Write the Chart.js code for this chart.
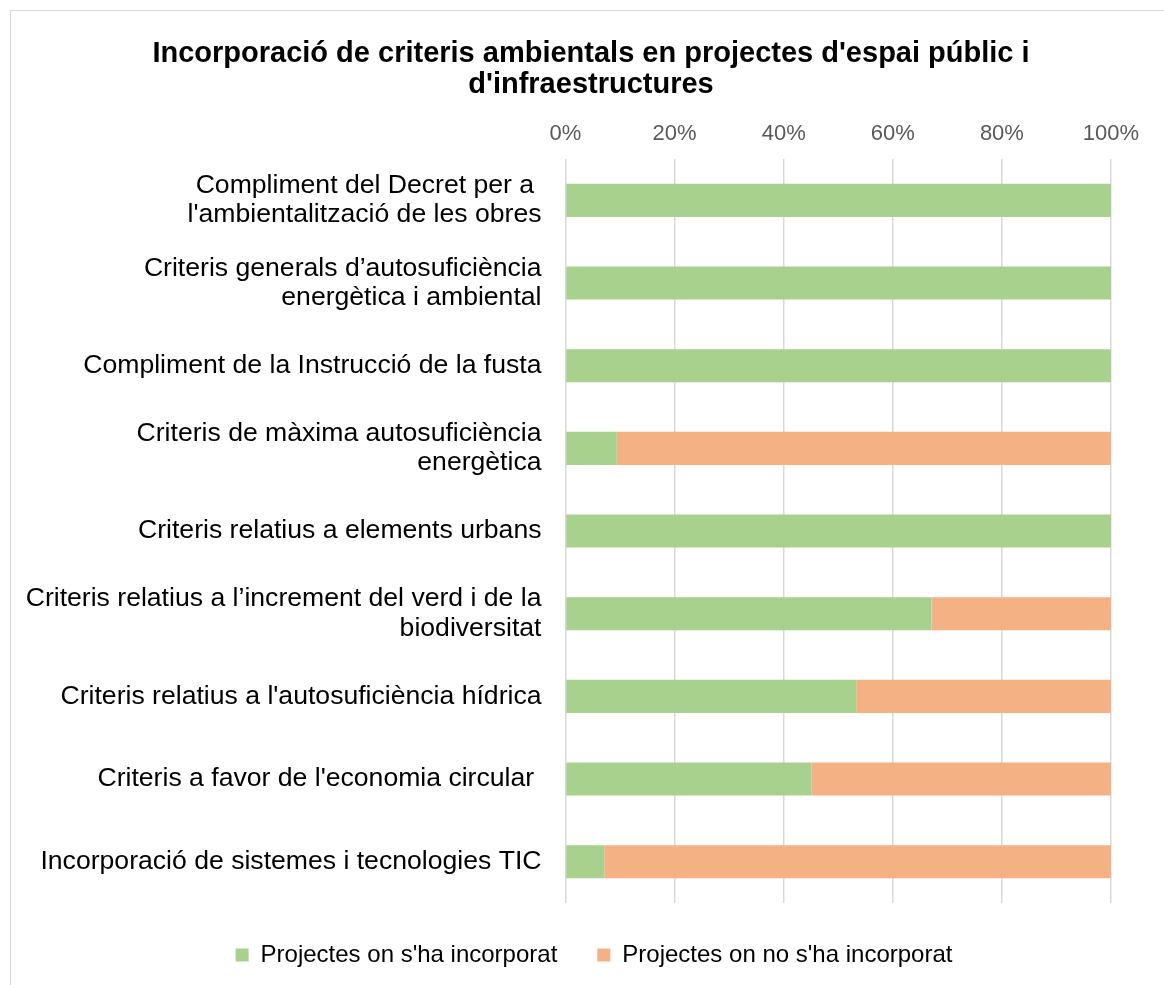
<!DOCTYPE html>
<html>
<head>
<meta charset="utf-8">
<script src="https://cdn.jsdelivr.net/npm/chart.js@4"></script>
<style>
  html, body { margin: 0; padding: 0; background: #fff; }
  #wrap { position: absolute; left: 0; top: 0; width: 1164px; height: 985px; }
  #frame { position: absolute; left: 10px; top: 10px; width: 1160px; height: 980px; border: 1px solid #d9d9d9; box-sizing: border-box; pointer-events: none; }
</style>
</head>
<body>
<div id="wrap"><canvas id="c" width="1164" height="985"></canvas></div>
<div id="frame"></div>
<script>
const categories = [
  ["Compliment del Decret per a ", "l'ambientalització de les obres"],
  ["Criteris generals d\u2019autosuficiència", "energètica i ambiental"],
  "Compliment de la Instrucció de la fusta",
  ["Criteris de màxima autosuficiència", "energètica"],
  "Criteris relatius a elements urbans",
  ["Criteris relatius a l\u2019increment del verd i de la", "biodiversitat"],
  "Criteris relatius a l'autosuficiència hídrica",
  "Criteris a favor de l'economia circular ",
  "Incorporació de sistemes i tecnologies TIC"
];
const seriesNames = ["Projectes on s'ha incorporat", "Projectes on no s'ha incorporat"];
const incorporated = [100, 100, 100, 9.4, 100, 67.1, 53.3, 45.1, 7.1];
const notIncorporated = [0, 0, 0, 90.6, 0, 32.9, 46.7, 54.9, 92.9];
const titleLines = ["Incorporació de criteris ambientals en projectes d'espai públic i", "d'infraestructures"];

const FONT = "'Liberation Sans', Arial, sans-serif";

// shift title & legend centres (they centre over the whole frame, not the plot)
const centerShift = {
  id: 'centerShift',
  afterLayout(chart) {
    if (chart.titleBlock) chart.titleBlock.left = 71;
    if (chart.legend) chart.legend.left = 77;
  }
};

new Chart(document.getElementById('c'), {
  type: 'bar',
  data: {
    labels: categories,
    datasets: [
      { label: seriesNames[0], data: incorporated, backgroundColor: '#A9D18E', borderWidth: 0, barPercentage: 0.4, categoryPercentage: 1 },
      { label: seriesNames[1], data: notIncorporated, backgroundColor: '#F4B183', borderWidth: 0, barPercentage: 0.4, categoryPercentage: 1 }
    ]
  },
  plugins: [centerShift],
  options: {
    indexAxis: 'y',
    responsive: false,
    animation: false,
    devicePixelRatio: 1,
    layout: { padding: { left: 0, right: 53, top: 0, bottom: 8 } },
    plugins: {
      title: {
        display: true,
        text: titleLines,
        color: '#000',
        font: { family: FONT, size: 29, weight: 'bold', lineHeight: 1.07 },
        padding: { top: 38, bottom: 2 }
      },
      legend: {
        display: true,
        position: 'bottom',
        labels: {
          color: '#000',
          font: { family: FONT, size: 24 },
          boxWidth: 13,
          boxHeight: 13,
          padding: 40
        }
      },
      tooltip: { enabled: false }
    },
    scales: {
      x: {
        position: 'top',
        stacked: true,
        min: 0,
        max: 100,
        ticks: {
          stepSize: 20,
          color: '#595959',
          font: { family: FONT, size: 22 },
          padding: 12,
          callback: v => v + '%'
        },
        grid: { color: '#d9d9d9', lineWidth: 1.5, drawTicks: false },
        border: { display: false },
        afterFit: s => { s.height = 57; }
      },
      y: {
        stacked: true,
        ticks: {
          color: '#000',
          font: { family: FONT, size: 26.6, lineHeight: 1.1 },
          padding: 24
        },
        grid: { display: false, drawTicks: false },
        border: { display: false },
        afterFit: s => { s.width = 565.5; }
      }
    }
  }
});
</script>
</body>
</html>
